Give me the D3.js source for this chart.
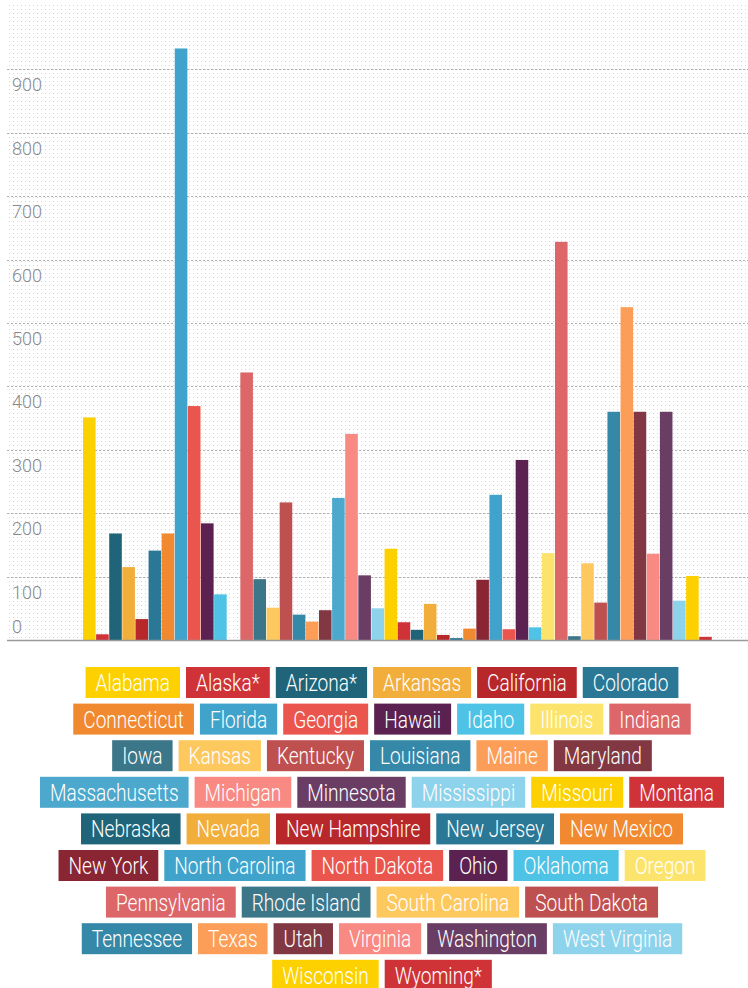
<!DOCTYPE html>
<html>
<head>
<meta charset="utf-8">
<script src="https://cdn.jsdelivr.net/npm/d3@7"></script>
<style>
  html, body { margin: 0; padding: 0; background: #fff; }
  svg { display: block; }
</style>
</head>
<body>
<div id="chart"></div>
<script>

// states shown in the chart (legend labels keep the asterisks)
const states = [
    "Alabama", "Alaska*", "Arizona*", "Arkansas", "California", "Colorado",
    "Connecticut", "Florida", "Georgia", "Hawaii", "Idaho", "Illinois", "Indiana",
    "Iowa", "Kansas", "Kentucky", "Louisiana", "Maine", "Maryland",
    "Massachusetts", "Michigan", "Minnesota", "Mississippi", "Missouri", "Montana",
    "Nebraska", "Nevada", "New Hampshire", "New Jersey", "New Mexico",
    "New York", "North Carolina", "North Dakota", "Ohio", "Oklahoma", "Oregon",
    "Pennsylvania", "Rhode Island", "South Carolina", "South Dakota",
    "Tennessee", "Texas", "Utah", "Virginia", "Washington", "West Virginia",
    "Wisconsin", "Wyoming*"
];

const values = [
    351, 9, 168, 115, 33, 141,
    168, 933, 369, 184, 72, 0, 422,
    96, 51, 217, 40, 29, 47,
    224, 325, 102, 50, 144, 28,
    16, 57, 8, 3, 18,
    95, 229, 17, 284, 20, 137,
    628, 6, 121, 59,
    360, 525, 360, 136, 360, 62,
    101, 5
];

const stateColors = [
    "#fdd000", "#cf3338", "#1f6478", "#f2ae3b", "#b8282b", "#2a7896",
    "#f0892f", "#3fa3cb", "#ea564d", "#5b2151", "#4ec3e6", "#fce46c", "#dc6668",
    "#3c7689", "#fdc95f", "#bf5050", "#3588a8", "#fc9e57", "#823843",
    "#4ca8cc", "#f98a83", "#6a3d65", "#8dd3ec", "#fdd000", "#cf3338",
    "#1f6478", "#f2ae3b", "#b8282b", "#2a7896", "#f0892f",
    "#8a2533", "#3fa3cb", "#ea564d", "#5b2151", "#4ec3e6", "#fce46c",
    "#dc6668", "#3c7689", "#fdc95f", "#bf5050",
    "#3588a8", "#fc9e57", "#823843", "#f98a83", "#6a3d65", "#8dd3ec",
    "#fdd000", "#cf3338"
];

const yTicks = [0, 100, 200, 300, 400, 500, 600, 700, 800, 900];

// how many legend boxes sit on each line
const legendRows = [6, 7, 6, 6, 5, 6, 4, 6, 2];

const width = 748, height = 988;

const svg = d3.select("#chart")
    .append("svg")
    .attr("width", width)
    .attr("height", height);

// dotted background pattern
const defs = svg.append("defs");
const pat = defs.append("pattern")
    .attr("id", "dots")
    .attr("width", 4)
    .attr("height", 4)
    .attr("patternUnits", "userSpaceOnUse");
pat.append("rect")
    .attr("x", 1).attr("y", 1)
    .attr("width", 1).attr("height", 1)
    .attr("fill", "#d4d4d4");

const plotLeft = 7, plotRight = width, plotTop = 3, plotBottom = 640;

svg.append("rect")
    .attr("x", plotLeft)
    .attr("y", plotTop)
    .attr("width", plotRight - plotLeft)
    .attr("height", plotBottom - plotTop)
    .attr("fill", "url(#dots)");

// scales
const y = d3.scaleLinear()
    .domain([0, 1000])
    .range([plotBottom, 6]);

const x = d3.scaleBand()
    .domain(states)
    .range([83, 83 + states.length * 13.1])
    .paddingInner(0.04)
    .paddingOuter(0);

// grid lines
svg.append("g")
    .selectAll("line")
    .data(yTicks.filter(d => d > 0))
    .join("line")
    .attr("x1", plotLeft)
    .attr("x2", plotRight)
    .attr("y1", d => Math.round(y(d)) + 0.5)
    .attr("y2", d => Math.round(y(d)) + 0.5)
    .attr("stroke", "#b0b0b0")
    .attr("stroke-width", 1)
    .attr("stroke-dasharray", "2,2");

// tick labels sit below their grid line, the 0 is kept inside the plot
svg.append("g")
    .selectAll("text")
    .data(yTicks)
    .join("text")
    .attr("x", 12)
    .attr("y", d => Math.min(y(d) + 22, y(0) - 7))
    .attr("fill", "#8a8a8a")
    .attr("font-family", "Roboto, 'Noto Sans', sans-serif")
    .attr("font-weight", 300)
    .attr("font-size", 18)
    .text(d => d);

// bars
svg.append("g")
    .selectAll("rect")
    .data(states)
    .join("rect")
    .attr("x", d => x(d))
    .attr("width", x.bandwidth())
    .attr("y", (d, i) => y(values[i]))
    .attr("height", (d, i) => y(0) - y(values[i]))
    .attr("fill", (d, i) => stateColors[i]);

// base line
svg.append("line")
    .attr("x1", plotLeft)
    .attr("x2", plotRight)
    .attr("y1", plotBottom + 0.5)
    .attr("y2", plotBottom + 0.5)
    .attr("stroke", "#9a9a9a")
    .attr("stroke-width", 1.5);

// legend
const legendCenter = 382, legendTop = 667, rowPitch = 36.6;
const boxH = 31, gap = 6, pad = 10;
const squeeze = 0.83;   // the original font is a condensed one

const legend = svg.append("g");
let start = 0;
legendRows.forEach((count, r) => {
    const items = d3.range(start, start + count);
    start += count;

    const row = legend.append("g");
    const boxes = row.selectAll("g")
        .data(items)
        .join("g");

    boxes.append("rect")
        .attr("height", boxH)
        .attr("fill", i => stateColors[i]);

    boxes.append("text")
        .attr("fill", "#fff")
        .attr("font-family", "Roboto, 'Noto Sans', sans-serif")
        .attr("font-weight", 300)
        .attr("font-size", 23)
        .attr("transform", `translate(${pad},24) scale(${squeeze},1)`)
        .text(i => states[i]);

    // measure and place the boxes
    const widths = [];
    boxes.each(function () {
        const w = d3.select(this).select("text").node().getComputedTextLength();
        widths.push(w * squeeze + pad * 2);
    });
    const total = d3.sum(widths) + gap * (count - 1);
    let cx = legendCenter - total / 2;
    boxes.each(function (d, k) {
        const g = d3.select(this);
        g.attr("transform", `translate(${cx},${legendTop + r * rowPitch})`);
        g.select("rect").attr("width", widths[k]);
        cx += widths[k] + gap;
    });
});

</script>
</body>
</html>
